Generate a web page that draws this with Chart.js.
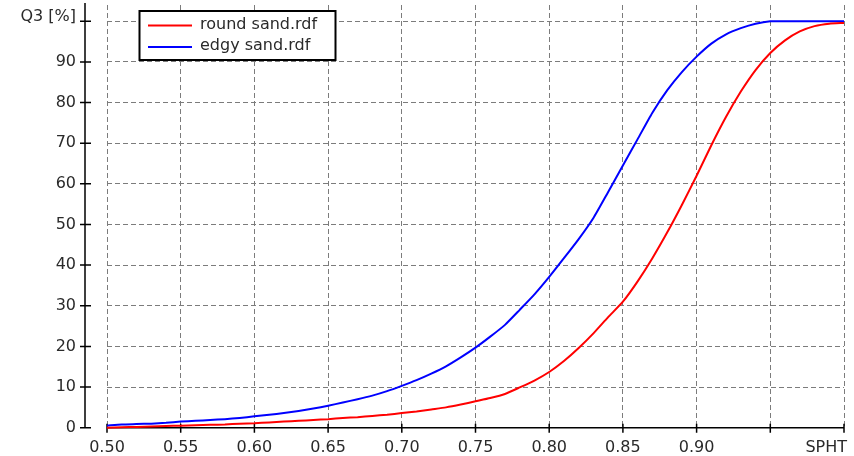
<!DOCTYPE html>
<html>
<head>
<meta charset="utf-8">
<script src="https://cdn.jsdelivr.net/npm/chart.js@4.4.1/dist/chart.umd.min.js"></script>
<style>
  html, body { margin: 0; padding: 0; background: #fff; }
  #wrap { width: 854px; height: 456px; }
</style>
</head>
<body>
<div id="wrap"><canvas id="myChart"></canvas></div>
<script>
const sphtValues = [
  0.50, 0.51, 0.52, 0.53, 0.54, 0.55, 0.56, 0.57, 0.58, 0.59,
  0.60, 0.61, 0.62, 0.63, 0.64, 0.65, 0.66, 0.67, 0.68, 0.69,
  0.70, 0.71, 0.72, 0.73, 0.74, 0.75, 0.76, 0.77, 0.78, 0.79,
  0.80, 0.81, 0.82, 0.83, 0.84, 0.85, 0.86, 0.87, 0.88, 0.89,
  0.90, 0.91, 0.92, 0.93, 0.94, 0.95, 0.96, 0.97, 0.98, 0.99, 1.00
];
const roundSand = [
  0.0, 0.1, 0.2, 0.3, 0.4, 0.5, 0.6, 0.7, 0.8, 1.0,
  1.1, 1.3, 1.5, 1.7, 1.9, 2.1, 2.4, 2.6, 2.9, 3.2,
  3.6, 4.0, 4.5, 5.0, 5.7, 6.5, 7.3, 8.3, 9.9, 11.6,
  13.7, 16.4, 19.6, 23.2, 27.2, 31.0, 36.0, 41.7, 48.0, 54.8,
  62.0, 69.5, 76.5, 82.7, 88.0, 92.2, 95.3, 97.5, 98.8, 99.4, 99.6
];
const edgySand = [
  0.5, 0.8, 0.9, 1.0, 1.2, 1.5, 1.7, 1.9, 2.1, 2.4,
  2.8, 3.2, 3.6, 4.1, 4.7, 5.4, 6.2, 7.0, 7.9, 9.0,
  10.3, 11.7, 13.3, 15.1, 17.3, 19.7, 22.4, 25.3, 29.0, 32.8,
  37.1, 41.7, 46.4, 51.6, 58.0, 64.5, 71.0, 77.5, 83.0, 87.5,
  91.3, 94.5, 96.8, 98.3, 99.4, 100, 100, 100, 100, 100, 100
];
const seriesNames = ["round sand.rdf", "edgy sand.rdf"];
const seriesColors = ["#ff0000", "#0000ff"];

const xTicks = [0.50, 0.55, 0.60, 0.65, 0.70, 0.75, 0.80, 0.85, 0.90, 0.95, 1.00];
const xTickLabels = ["0.50", "0.55", "0.60", "0.65", "0.70", "0.75", "0.80", "0.85", "0.90", "", ""];
const yTicks = [0, 10, 20, 30, 40, 50, 60, 70, 80, 90, 100];
const yTickLabels = ["0", "10", "20", "30", "40", "50", "60", "70", "80", "90", ""];
const xAxisName = "SPHT";
const yAxisName = "Q3 [%]";

const fontFamily = "'DejaVu Sans', Verdana, sans-serif";
const textColor = "#2a2a2a";
const xLabelPad = 11;

// axis lines, crossing tick marks, axis names and the boxed legend
const axesPlugin = {
  id: "axesPlugin",
  beforeDatasetsDraw(chart) {
    const { ctx, chartArea } = chart;
    const xs = chart.scales.x;
    const ys = chart.scales.y;
    const yAxisX = chartArea.left - 22;
    ctx.save();
    ctx.strokeStyle = "#000";
    ctx.lineWidth = 1.5;
    ctx.beginPath();
    ctx.moveTo(yAxisX, chartArea.top - 2);
    ctx.lineTo(yAxisX, ys.getPixelForValue(0));
    yTicks.forEach((v) => {
      const y = ys.getPixelForValue(v);
      ctx.moveTo(yAxisX - 5, y);
      ctx.lineTo(yAxisX + 6, y);
    });
    const y0 = ys.getPixelForValue(0);
    ctx.moveTo(xs.getPixelForValue(xTicks[0]), y0);
    ctx.lineTo(xs.getPixelForValue(xTicks[xTicks.length - 1]), y0);
    xTicks.forEach((v) => {
      const x = xs.getPixelForValue(v);
      ctx.moveTo(x, y0 - 4);
      ctx.lineTo(x, y0 + 5);
    });
    ctx.stroke();
    ctx.restore();
  },
  afterDraw(chart) {
    const { ctx, chartArea } = chart;
    const xs = chart.scales.x;
    const ys = chart.scales.y;
    ctx.save();
    ctx.fillStyle = textColor;
    ctx.font = "16px " + fontFamily;
    ctx.textBaseline = "middle";
    ctx.textAlign = "right";
    ctx.fillText(yAxisName, chartArea.left - 31, ys.getPixelForValue(100) - 4);
    ctx.fillText(xAxisName, 847, xs.top + xLabelPad + 9.6);

    // legend
    const bx = 139.5, by = 11, bw = 196, bh = 49;
    ctx.fillStyle = "#fff";
    ctx.fillRect(bx, by, bw, bh);
    ctx.strokeStyle = "#000";
    ctx.lineWidth = 2;
    ctx.strokeRect(bx, by, bw, bh);
    chart.data.datasets.forEach((ds, i) => {
      const ly = 25.5 + i * 21.5;
      ctx.strokeStyle = ds.borderColor;
      ctx.lineWidth = 2;
      ctx.beginPath();
      ctx.moveTo(148, ly);
      ctx.lineTo(192, ly);
      ctx.stroke();
      ctx.fillStyle = textColor;
      ctx.textAlign = "left";
      ctx.fillText(ds.label, 200, ly - 1);
    });
    ctx.restore();
  }
};

const ctx = document.getElementById("myChart").getContext("2d");

const myChart = new Chart(ctx, {
  type: "line",
  data: {
    datasets: [
      {
        label: seriesNames[0],
        data: sphtValues.map((x, i) => ({ x: x, y: roundSand[i] })),
        borderColor: seriesColors[0],
        borderWidth: 2,
        pointRadius: 0,
        tension: 0.2,
        clip: false,
      },
      {
        label: seriesNames[1],
        data: sphtValues.map((x, i) => ({ x: x, y: edgySand[i] })),
        borderColor: seriesColors[1],
        borderWidth: 2,
        pointRadius: 0,
        tension: 0.2,
        clip: false,
      },
    ],
  },
  options: {
    responsive: true,
    maintainAspectRatio: false,
    animation: false,
    devicePixelRatio: 1,
    layout: { padding: { top: 5, right: 10, left: 0, bottom: 0 } },
    plugins: {
      legend: { display: false },
      tooltip: { enabled: false },
    },
    scales: {
      x: {
        type: "linear",
        min: 0.5,
        max: 1.0,
        afterBuildTicks: (scale) => {
          scale.ticks = xTicks.map((v) => ({ value: v }));
        },
        afterFit: (scale) => {
          scale.height = 28.3;
          scale.paddingLeft = 0;
          scale.paddingRight = 0;
        },
        border: { display: false, dash: [5, 3] },
        grid: {
          drawTicks: false,
          color: "#7c7c7c",
          lineWidth: 1,
        },
        ticks: {
          padding: xLabelPad,
          maxRotation: 0,
          autoSkip: false,
          color: textColor,
          font: { family: fontFamily, size: 16 },
          callback: (value, index) => xTickLabels[index],
        },
      },
      y: {
        type: "linear",
        min: 0,
        max: 104,
        afterBuildTicks: (scale) => {
          scale.ticks = yTicks.map((v) => ({ value: v }));
        },
        afterFit: (scale) => {
          scale.width = 107;
          scale.paddingTop = 0;
          scale.paddingBottom = 0;
        },
        border: { display: false, dash: [5, 3] },
        grid: {
          drawTicks: false,
          color: (c) => (c.tick && c.tick.value === 0 ? "rgba(0,0,0,0)" : "#7c7c7c"),
          lineWidth: 1,
        },
        ticks: {
          padding: 31,
          color: textColor,
          font: { family: fontFamily, size: 16 },
          callback: (value, index) => yTickLabels[index],
        },
      },
    },
  },
  plugins: [axesPlugin],
});
</script>
</body>
</html>
